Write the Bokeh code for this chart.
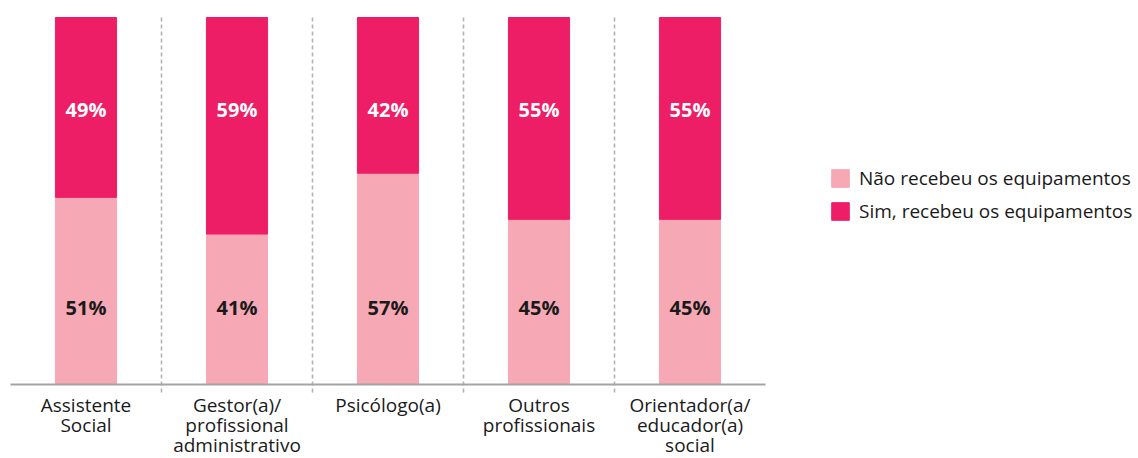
from bokeh.plotting import figure
from bokeh.models import Range1d, Legend, LegendItem, ColumnDataSource
from bokeh.core.properties import value
from bokeh.embed import file_html
from bokeh.resources import INLINE

categories = ["Assistente\nSocial", "Gestor(a)/\nprofissional\nadministrativo", "Psicólogo(a)",
              "Outros\nprofissionais", "Orientador(a/\neducador(a)\nsocial"]
nao = [51, 41, 57, 45, 45]
sim = [49, 59, 42, 55, 55]
series_names = ["Não recebeu os equipamentos", "Sim, recebeu os equipamentos"]

PINK = "#F6A8B5"
MAGENTA = "#ED1E65"
FONT = "Open Sans"
TXT = "#1a1a1a"

W, H = 1138, 458
# pixel layout of plotting area inside the page
PX_LEFT, PX_RIGHT = 10, 765      # x of category 0 start and category n end
PX_TOP, PX_AXIS = 17, 384        # y of 100% and 0%

n = len(categories)
xs = [i + 0.5 for i in range(n)]
tot = [a + b for a, b in zip(nao, sim)]
nao_n = [a / t * 100 for a, t in zip(nao, tot)]
top_n = [100.0] * n

xs_per_px = n / (PX_RIGHT - PX_LEFT)
ys_per_px = 100 / (PX_AXIS - PX_TOP)
x_range = Range1d(-PX_LEFT * xs_per_px, (W - PX_LEFT) * xs_per_px)
y_range = Range1d(-(H - PX_AXIS) * ys_per_px, 100 + PX_TOP * ys_per_px)

p = figure(width=W, height=H, output_backend="svg", toolbar_location=None,
           x_range=x_range, y_range=y_range,
           min_border_left=0, min_border_right=0, min_border_top=0, min_border_bottom=0)
p.outline_line_color = None
p.grid.visible = False
p.axis.visible = False

src = ColumnDataSource(dict(x=xs, nao=nao_n, top=top_n, cat=categories,
                            nao_lbl=[f"{v}%" for v in nao], sim_lbl=[f"{v}%" for v in sim],
                            y_nao=[21] * n, y_sim=[75] * n,
                            y_cat=[-7.5 * ys_per_px] * n))

# separators between categories (dashed, extending slightly under the axis)
bx = list(range(1, n))
p.segment(x0=bx, x1=bx, y0=[-8 * ys_per_px] * len(bx), y1=[100] * len(bx),
          line_color="#b3b3b3", line_width=1.6, line_dash="4 3")

r_nao = p.vbar(x="x", bottom=0, top="nao", width=0.405, color=PINK, source=src)
r_sim = p.vbar(x="x", bottom="nao", top="top", width=0.405, color=MAGENTA, source=src)

# baseline axis
p.segment(x0=[0], x1=[n], y0=[0], y1=[0], line_color="#a3a3a3", line_width=2)

p.text(x="x", y="y_nao", text="nao_lbl", source=src, text_align="center", text_baseline="middle",
       text_font=value(FONT), text_font_size="20px", text_font_style="bold", text_color=TXT)
p.text(x="x", y="y_sim", text="sim_lbl", source=src, text_align="center", text_baseline="middle",
       text_font=value(FONT), text_font_size="20px", text_font_style="bold", text_color="white")

p.text(x="x", y="y_cat", text="cat", source=src, text_align="center", text_baseline="top",
       text_font=value(FONT), text_font_size="19px", text_color=TXT, text_line_height=0.77)

legend = Legend(items=[LegendItem(label=series_names[0], renderers=[r_nao]),
                       LegendItem(label=series_names[1], renderers=[r_sim])],
                location=(829, H - 165 - 59), orientation="vertical")
legend.padding = 0
legend.margin = 0
legend.spacing = 7
legend.glyph_width = 22
legend.glyph_height = 22
legend.label_height = 22
legend.label_standoff = 8
legend.label_text_font = FONT
legend.label_text_font_size = "19px"
legend.label_text_color = TXT
legend.border_line_color = None
legend.background_fill_alpha = 0
p.add_layout(legend, "center")

open("out.html", "w").write(file_html(p, INLINE))
